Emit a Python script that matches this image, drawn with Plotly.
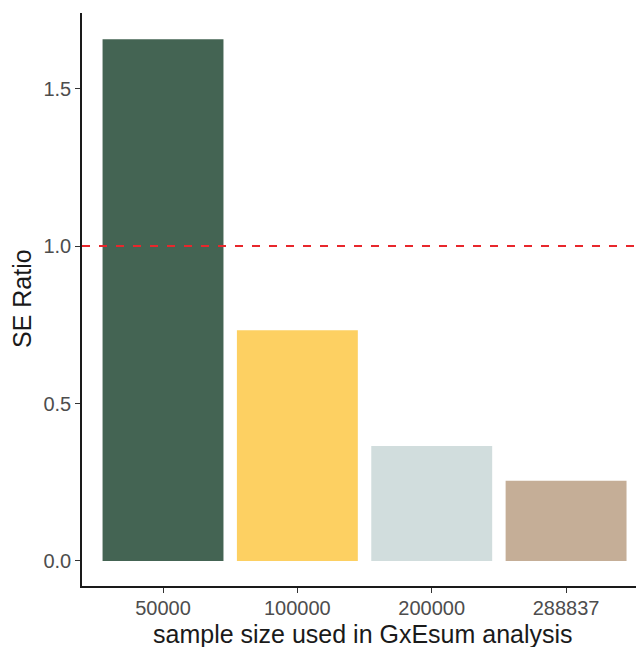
import plotly.graph_objects as go

categories = ["50000", "100000", "200000", "288837"]
se_ratio = [1.657, 0.733, 0.365, 0.255]
bar_colors = ["#446453", "#FDD062", "#D1DDDD", "#C5AE97"]
y_ticks = [0.0, 0.5, 1.0, 1.5]
y_tick_labels = ["0.0", "0.5", "1.0", "1.5"]
reference_line = 1.0
x_title = "sample size used in GxEsum analysis"
y_title = "SE Ratio"

# page body has an 8px default margin; figure is sized to fit the window
OFF = 8
W, H = 644 - OFF, 647 - OFF
L, T, B, R = 82 - OFF, 13 - OFF, 647 - 586, 0
PW, PH = W - L - R, H - T - B

fig = go.Figure()
fig.add_trace(go.Bar(
    x=categories, y=se_ratio,
    marker=dict(color=bar_colors, line=dict(width=0)),
    width=0.9, showlegend=False,
))

fig.add_shape(type="line", xref="paper", x0=0, x1=1, yref="y",
              y0=reference_line, y1=reference_line,
              line=dict(color="#E8272C", width=2, dash="8px,9px"))

fig.add_annotation(text=x_title, xref="paper", yref="paper", x=(363 - 82) / PW,
                   y=-(634 - 586) / PH, xanchor="center", yanchor="middle",
                   showarrow=False, font=dict(size=25, color="#1a1a1a"))
fig.add_annotation(text=y_title, xref="paper", yref="paper", x=-(82 - 22) / PW,
                   y=(586 - 299) / PH, xanchor="center", yanchor="middle",
                   textangle=-90, showarrow=False, font=dict(size=25, color="#1a1a1a"))

fig.update_layout(
    width=W, height=H,
    margin=dict(l=L, r=R, t=T, b=B, autoexpand=False),
    plot_bgcolor="white", paper_bgcolor="white",
    font=dict(family="Liberation Sans, Arial, sans-serif"),
    xaxis=dict(
        type="category", range=[-0.603, 3.58], automargin=False,
        showline=True, linecolor="#1a1a1a", linewidth=1.5,
        ticks="outside", ticklen=5, tickcolor="#333333", tickwidth=1.2,
        tickfont=dict(size=20, color="#4D4D4D"), ticklabelstandoff=-2,
        showgrid=False, zeroline=False,
    ),
    yaxis=dict(
        range=[-0.0795, 1.74], automargin=False,
        tickvals=y_ticks, ticktext=y_tick_labels,
        showline=True, linecolor="#1a1a1a", linewidth=1.5,
        ticks="outside", ticklen=5, tickcolor="#333333", tickwidth=1.2,
        tickfont=dict(size=20, color="#4D4D4D"),
        showgrid=False, zeroline=False,
    ),
)

fig.write_html("out.html")
